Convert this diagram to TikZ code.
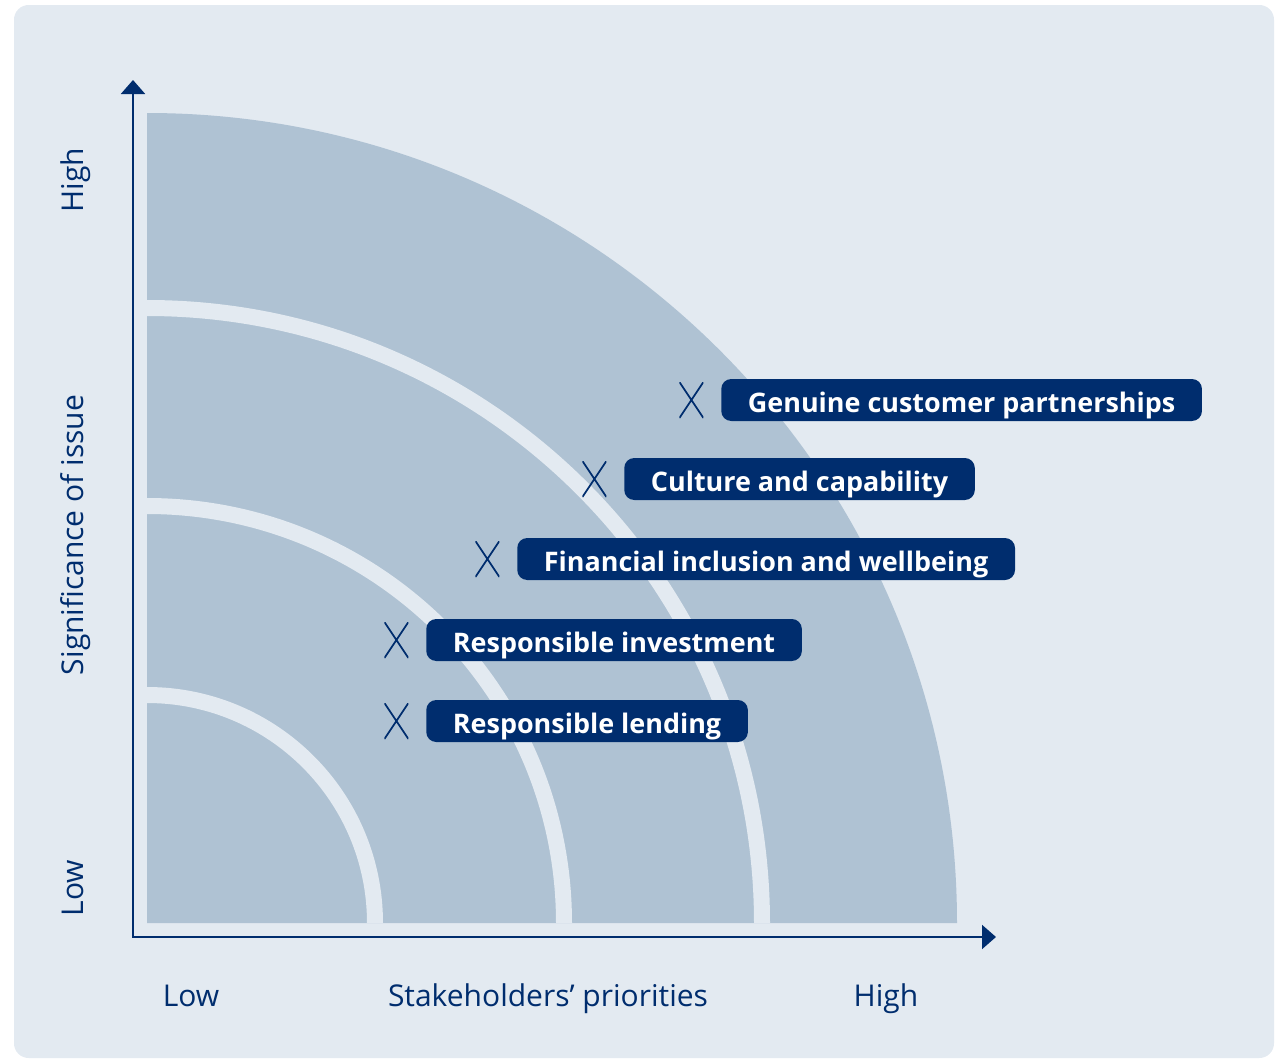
\documentclass[tikz,border=0pt]{standalone}
\usepackage{fontspec}
\setmainfont{Open Sans}
\usepackage{tikz}
\usetikzlibrary{arrows.meta,positioning}
\definecolor{bgblue}{HTML}{E3EAF1}
\definecolor{bandblue}{HTML}{AFC2D3}
\definecolor{navy}{HTML}{002D6E}
\tikzset{
	materiality/.style={
		x=0.75pt, y=-0.75pt,
		node distance=13pt,
		axis/.style={draw=navy, line width=1.5pt,
			{Triangle[length=10.5pt,width=18pt]}-{Triangle[length=10.5pt,width=18pt]}},
		gap/.style={draw=bgblue, line width=12pt},
		axis label/.style={text=navy, inner sep=0pt, anchor=base, font=\fontsize{22.5}{26}\selectfont}
		},
	tag/.style={fill=navy, text=white, anchor=west, rounded corners=7.5pt,
		minimum height=31.5pt, inner xsep=20pt, inner ysep=0pt,
		text height=22pt, text depth=4pt,
		font=\bfseries\fontsize{20.2}{23}\selectfont},
	xmark/.style={minimum width=18pt, minimum height=27pt, inner sep=0pt,
		path picture={\draw[navy, line width=1.3pt]
			(path picture bounding box.north west) -- (path picture bounding box.south east)
			(path picture bounding box.north east) -- (path picture bounding box.south west);}}
}

\begin{document}
\begin{tikzpicture}[materiality]
	\useasboundingbox (0,0) rectangle (1279,1060);
	\fill[bgblue, rounded corners=11pt] (14,5) rectangle (1274,1058);
	\coordinate (origin) at (147,923);
	\coordinate (corner) at (133,937);
	\coordinate (ytip) at (133,80);
	\coordinate (xtip) at (996,937);
	% quarter rings
	\fill[bandblue] (origin) -- ++(810,0) arc[start angle=0, end angle=-90, radius=810] -- cycle;
	\foreach \r in {228,417,615}
		\draw[gap] (origin) ++(\r,0) arc[start angle=0, end angle=-90, radius=\r];
	\draw[axis] (ytip) -- (corner) -- (xtip);
	% axis labels
	\node[axis label, rotate=90] (yhigh) at (83,180) {High};
	\node[axis label, rotate=90] (ytitle) at (83,535) {Significance of issue};
	\node[axis label, rotate=90] (ylow) at (83,888) {Low};
	\node[axis label] (xlow) at (191,1006) {Low};
	\node[axis label] (xtitle) at (548,1006) {Stakeholders’ priorities};
	\node[axis label] (xhigh) at (886,1006) {High};
	% issues
	\node[tag] (gcp) at (721,400) {Genuine customer partnerships};
	\node[tag] (cac) at (624,479) {Culture and capability};
	\node[tag] (fiw) at (517,559) {Financial inclusion and wellbeing};
	\node[tag] (rinv) at (426,640) {Responsible investment};
	\node[tag] (rlen) at (426,721) {Responsible lending};
	\foreach \t in {gcp,cac,fiw,rinv,rlen}
		\node[xmark, left=of \t] (x\t) {};
\end{tikzpicture}
\end{document}
